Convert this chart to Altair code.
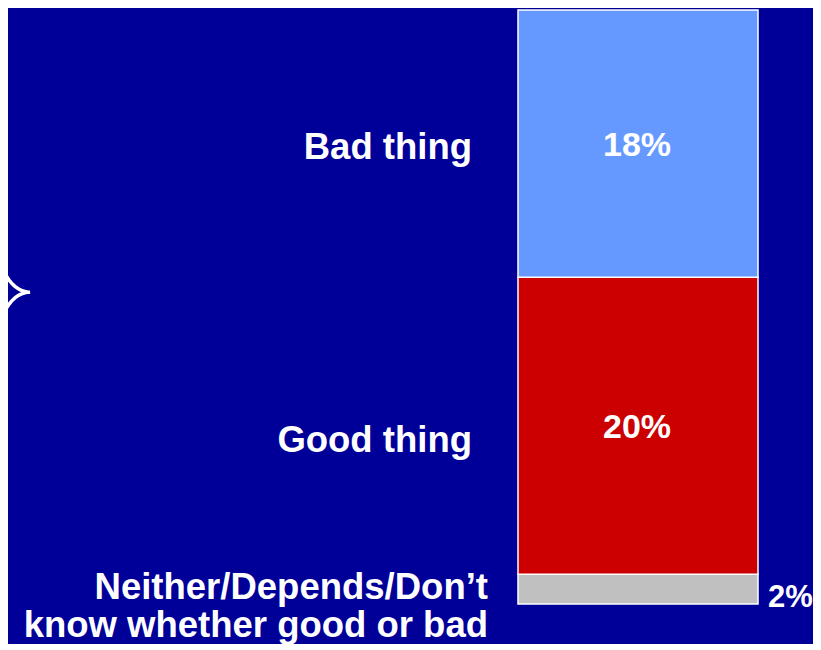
import altair as alt
import pandas as pd
import numpy as np

# ---- data ----
categories = ["Neither/Depends/Don’t\nknow whether good or bad", "Good thing", "Bad thing"]
keys = ["neither", "good", "bad"]
values = [2, 20, 18]
pct_labels = ["2%", "20%", "18%"]
colors = ["#C0C0C0", "#CC0000", "#6699FF"]

BG = "#000099"

df = pd.DataFrame({"key": keys, "category": categories, "value": values,
                   "label": pct_labels, "color": colors})
df["end"] = df["value"].cumsum()
df["start"] = df["end"] - df["value"]
df["mid"] = (df["start"] + df["end"]) / 2

total = float(df["end"].iloc[-1])
brace_low = float(df["end"].iloc[0])          # top of "Neither" segment
brace_tip = (brace_low + total) / 2

W, H = 805, 636
yscale = alt.Scale(domain=[0, total], range=[596, 2])
xscale = alt.Scale(domain=[0, W], range=[0, W])

# brace decoration (x in pixels, y on the data scale)
half = 3.1
th1 = np.linspace(np.pi, np.pi / 2, 20)
th2 = np.linspace(np.pi / 2, np.pi, 20)
bx = [-9] + list(22 + 31 * np.cos(th1)) + list(22 + 31 * np.cos(th2)) + [-9]
by = ([total] + list(brace_tip + half - half * np.sin(th1))
      + list(brace_tip - half + half * np.sin(th2)) + [brace_low])
brace_df = pd.DataFrame({"bx": bx, "by": by, "i": range(len(bx))})

base = alt.Chart(df)

bars = base.mark_rect(stroke="white", strokeWidth=1.5).encode(
    x=alt.value(510), x2=alt.value(750),
    y=alt.Y("start:Q", scale=yscale, axis=None),
    y2="end:Q",
    color=alt.Color("color:N", scale=None),
)

inside = base.transform_filter(alt.datum.key != "neither").mark_text(
    font="Liberation Sans", fontWeight="bold", fontSize=34, color="white",
    align="center", baseline="alphabetic", dy=12
).encode(x=alt.value(629), y=alt.Y("mid:Q", scale=yscale, axis=None), text="label:N")

outside = base.transform_filter(alt.datum.key == "neither").mark_text(
    font="Liberation Sans", fontWeight="bold", fontSize=31, color="white",
    align="left", baseline="alphabetic", dy=3
).encode(x=alt.value(760), y=alt.Y("start:Q", scale=yscale, axis=None), text="label:N")

def cat_label(key, xpos, dy, lh=40):
    return base.transform_filter(alt.datum.key == key).mark_text(
        font="Liberation Sans", fontWeight="bold", fontSize=36.5, color="white",
        align="right", baseline="alphabetic", dy=dy, lineBreak="\n", lineHeight=lh
    ).encode(x=alt.value(xpos), y=alt.Y("mid:Q", scale=yscale, axis=None), text="category:N")

lab_bad = cat_label("bad", 464, 15)
lab_good = cat_label("good", 464, 26)
lab_neither = cat_label("neither", 480, 10, 38)

brace = alt.Chart(brace_df).mark_line(color="white", strokeWidth=3.5, clip=False).encode(
    x=alt.X("bx:Q", scale=xscale, axis=None),
    y=alt.Y("by:Q", scale=yscale, axis=None),
    order="i:Q",
)

chart = alt.layer(bars, inside, outside, lab_bad, lab_good, lab_neither, brace).properties(
    width=W, height=H, background=BG, padding=0,
    autosize=alt.AutoSizeParams(type="none"),
).configure_view(stroke=None)

chart.save("out.html", embed_options={"renderer": "svg", "actions": False})
